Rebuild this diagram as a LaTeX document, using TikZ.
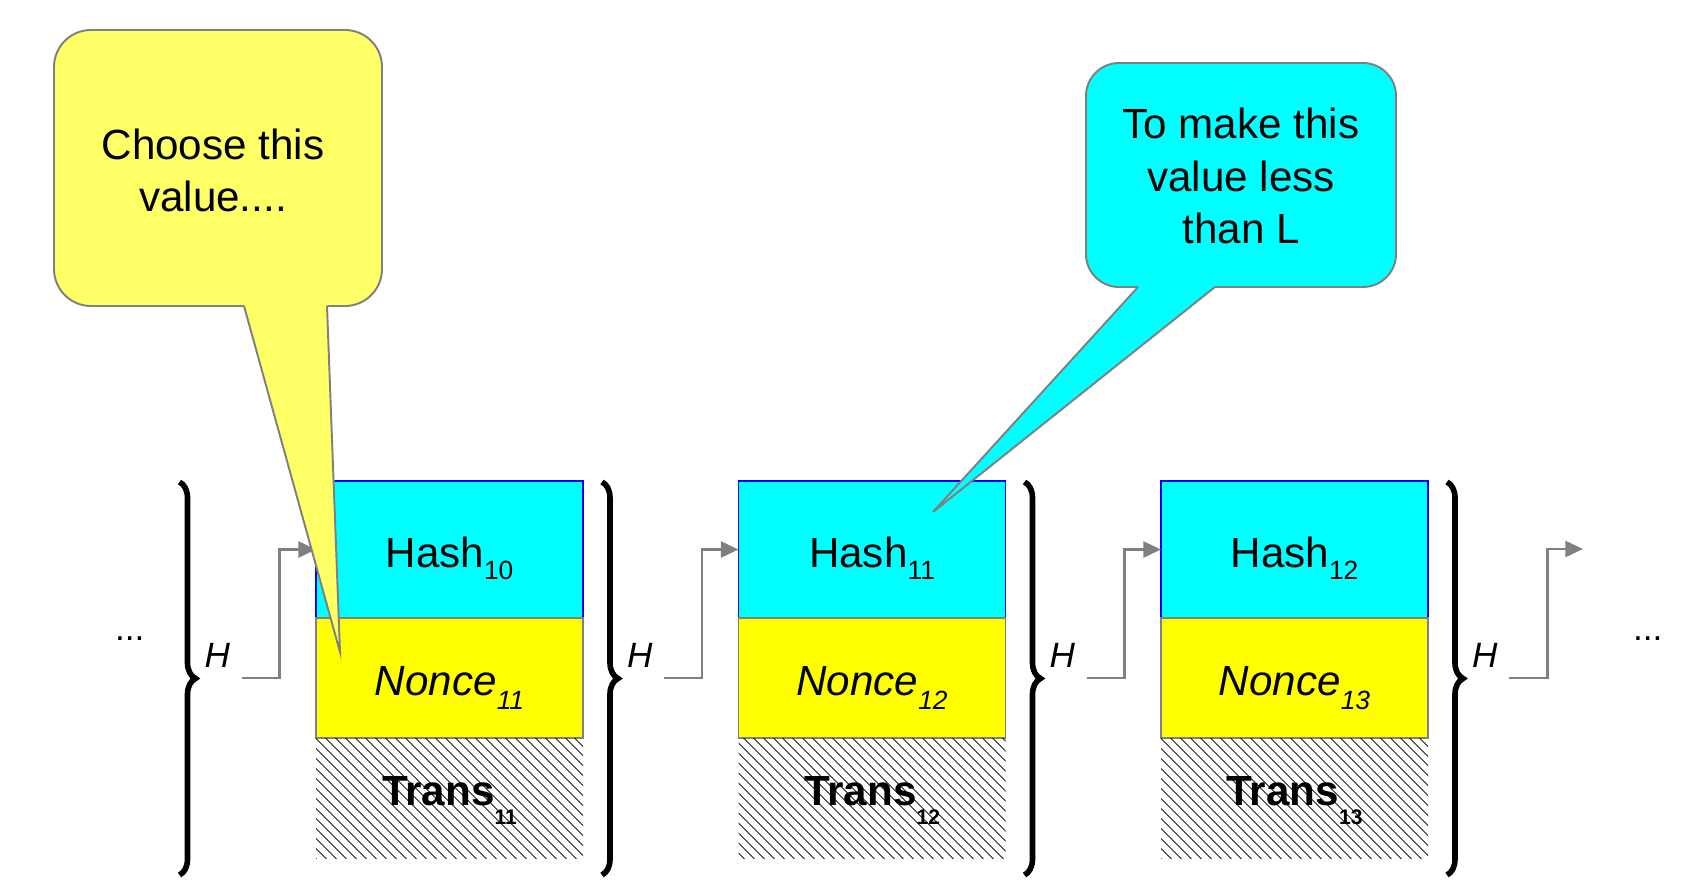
\documentclass[tikz,border=0pt]{standalone}
\usepackage{fontspec}
\setmainfont{Liberation Sans}
\usetikzlibrary{positioning, arrows.meta, calc, patterns.meta, decorations.pathreplacing}

\definecolor{hashcyan}{HTML}{00FFFF}
\definecolor{nonceyel}{HTML}{FFFF00}
\definecolor{noteyel}{HTML}{FFFF66}
\definecolor{edgegray}{HTML}{808080}

% lowered index: size, drop, text
\newcommand{\lowsub}[3]{\raisebox{-#2}{\fontsize{#1}{#1}\selectfont #3}}

\begin{document}
\begin{tikzpicture}[
  >={Triangle[length=10pt, width=9pt]},
  every node/.style={font=\fontsize{24}{30}\selectfont, inner sep=0pt, outer sep=0pt},
  blk/.style      = {minimum width=5.34cm, text depth=0pt},
  hashbox/.style  = {blk, minimum height=2.74cm, text height=20pt, fill=hashcyan, draw=blue, line width=0.8pt},
  noncebox/.style = {blk, minimum height=2.4cm, text height=20pt, fill=nonceyel, draw=edgegray, line width=0.8pt},
  transbox/.style = {blk, minimum height=2.4cm, text height=8pt, pattern={Lines[angle=-45, distance=4pt, line width=0.5pt]}},
  hbrace/.style   = {decorate, decoration={brace, amplitude=0.32cm}, line width=3.2pt},
  hlab/.style     = {font=\fontsize{20}{24}\selectfont\itshape, anchor=base west},
  dots/.style     = {font=\fontsize{20}{24}\selectfont, anchor=base west},
  arr/.style      = {->, line width=1.7pt, edgegray},
  bubble/.style   = {draw=edgegray, line width=1.1pt},
  note/.style     = {align=center, anchor=base},
]
  \useasboundingbox[fill=white] (0,0) rectangle (33.82,17.8);

  % the three blocks of the chain
  \foreach \i/\hs/\ns in {1/10/11, 2/11/12, 3/12/13} {
    \node[hashbox, anchor=north west] (hash\i) at ({6.32+8.45*(\i-1)}, 8.18) {Hash\lowsub{15pt}{7pt}{\hs}};
    \node[noncebox, below=0pt of hash\i]  (nonce\i) {\itshape Nonce\lowsub{15pt}{8pt}{\ns}};
    \node[transbox, below=0pt of nonce\i] (trans\i) {\bfseries Trans\lowsub{12pt}{11pt}{\ns}};
  }

  % braces, H labels and the start of each hash arrow
  \foreach \i in {0,...,3} {
    \pgfmathsetmacro{\bx}{3.59+8.45*\i}
    \draw[hbrace] (\bx, 8.16) -- (\bx, 0.3);
    \node[hlab] (hl\i) at (\bx+0.5, 4.46) {H};
    \coordinate (hs\i) at (\bx+1.24, 4.24);
  }
  \node[dots] (ldots) at (2.3, 5.0) {...};
  \node[dots] (rdots) at (32.66, 5.0) {...};

  \foreach \a/\b in {0/1, 1/2, 2/3}
    \draw[arr] (hs\a) -- ++(0.76,0) |- (hash\b.west);
  \coordinate (tail) at (31.66, 6.82);
  \draw[arr] (hs3) -- ++(0.76,0) |- (tail);

  % callout on the nonce
  \coordinate (ytip) at ([shift={(0.48,-0.68)}]nonce1.north west);
  \draw[bubble, fill=noteyel, rounded corners=0.74cm] (1.08,11.68) rectangle (7.64,17.2);
  \fill[noteyel] (4.88,11.68) -- (ytip) -- (6.54,11.68) -- (6.54,11.76) -- (4.88,11.76) -- cycle;
  \draw[bubble] (4.88,11.68) -- (ytip) -- (6.54,11.68);
  \node[note] (choose) at (4.26, 13.56) {Choose this\\value....};

  % callout on the hash
  \coordinate (ctip) at ([shift={(3.89,-0.62)}]hash2.north west);
  \draw[bubble, fill=hashcyan, rounded corners=0.66cm] (21.72,12.06) rectangle (27.92,16.54);
  \fill[hashcyan] (22.76,12.06) -- (ctip) -- (24.3,12.06) -- (24.3,12.14) -- (22.76,12.14) -- cycle;
  \draw[bubble] (22.76,12.06) -- (ctip) -- (24.3,12.06);
  \node[note] (less) at (24.82, 12.92) {To make this\\value less\\than L};
\end{tikzpicture}
\end{document}
